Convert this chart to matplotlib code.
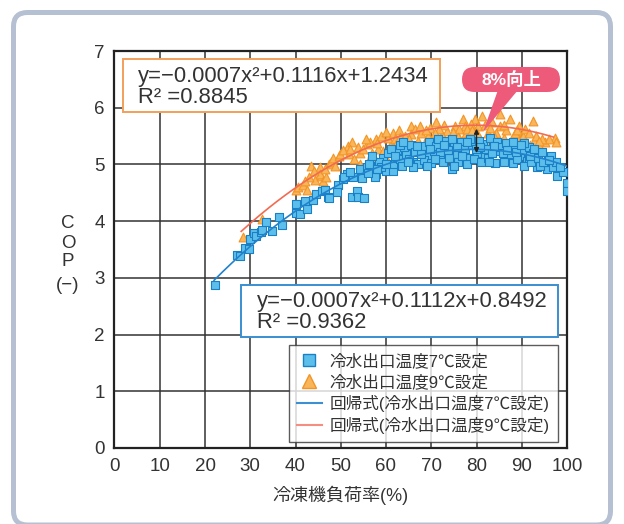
import numpy as np
import matplotlib
matplotlib.use('Agg')
import matplotlib.pyplot as plt
from matplotlib.patches import FancyBboxPatch, Rectangle, Polygon
from matplotlib.lines import Line2D

plt.rcParams['font.family'] = ['Liberation Sans', 'Noto Sans CJK JP']
plt.rcParams['axes.unicode_minus'] = False

# 冷水出口温度7℃設定 (負荷率%, COP)
x7 = [22.1, 27.0, 27.7, 28.8, 29.7, 30.0, 30.9, 31.2, 32.4, 32.7, 33.5, 34.7, 36.3, 37.1,
      40.2, 40.2, 41.0, 42.1, 42.5, 43.9, 44.6, 45.9, 46.5, 47.2, 47.5, 49.4, 49.2, 50.6,
      51.3, 50.8, 52.4, 52.7, 53.5, 53.8, 54.8, 55.1, 52.0, 54.2, 55.7, 56.4, 56.3, 57.9,
      57.6, 59.4, 60.1, 61.6, 61.6, 61.9, 63.0, 64.5, 66.0, 67.5, 69.0, 70.5, 71.9, 73.4,
      74.5, 75.6, 77.0, 78.5, 80.0, 81.5, 81.9, 83.7, 83.0, 85.2, 86.6, 87.3, 89.6, 91.1,
      91.6, 93.3, 95.5, 95.9, 97.7, 99.2, 99.9, 99.9,
      58.5, 59.0, 60.5, 62.5, 63.5, 64.0, 65.0, 65.5, 66.5, 67.0, 68.0, 68.5, 69.5, 70.0,
      71.0, 72.0, 72.5, 73.0, 74.0, 75.0, 76.0, 76.5, 77.5, 78.0, 79.0, 79.5, 80.5, 81.0,
      82.0, 82.5, 83.5, 84.0, 84.5, 85.5, 86.0, 86.5, 87.5, 88.0, 88.5, 89.0, 90.0, 90.5,
      91.5, 92.0, 92.5, 93.5, 94.0, 94.5, 95.0, 96.5, 97.0, 97.5, 98.5, 63.0, 61.0, 57.0,
      58.0, 56.0, 60.0, 69.0, 71.5, 74.5, 78.5, 88.0, 90.5, 66.0, 75.0,
      62.0, 64.8, 67.8, 70.8, 73.8, 76.8, 79.8, 82.8, 85.8, 88.8, 91.8, 94.8,
      63.8, 66.8, 69.8, 72.8, 75.8, 77.8, 80.8, 83.8, 86.8, 89.8, 92.8, 96.0]
y7 = [2.88, 3.41, 3.39, 3.53, 3.51, 3.69, 3.79, 3.74, 3.80, 3.85, 3.98, 3.83, 4.07, 3.94,
      4.30, 4.14, 4.13, 4.36, 4.22, 4.37, 4.48, 4.53, 4.55, 4.43, 4.41, 4.63, 4.52, 4.74,
      4.83, 4.77, 4.42, 4.77, 4.54, 4.43, 4.76, 4.41, 4.86, 4.92, 4.95, 4.98, 5.00, 4.83,
      4.77, 5.12, 4.89, 4.89, 5.01, 5.12, 5.09, 5.18, 5.04, 5.24, 5.15, 5.24, 5.12, 5.30,
      4.92, 5.18, 5.24, 5.12, 5.20, 5.36, 5.18, 5.36, 5.47, 5.24, 5.12, 5.27, 5.15, 5.06,
      5.12, 4.95, 4.92, 5.10, 4.80, 4.86, 4.68, 4.54,
      5.05, 4.95, 5.20, 5.25, 4.98, 5.30, 5.10, 5.35, 5.22, 5.00, 5.32, 5.08, 5.40, 5.02,
      5.33, 5.22, 5.05, 5.42, 5.12, 5.35, 5.05, 5.40, 5.28, 5.00, 5.35, 5.10, 5.42, 5.05,
      5.28, 5.12, 5.20, 5.02, 5.40, 5.30, 5.05, 5.38, 5.18, 5.02, 5.30, 5.10, 5.25, 4.98,
      5.30, 5.05, 5.20, 5.12, 4.98, 5.22, 5.05, 5.15, 4.95, 5.05, 4.95, 5.35, 5.28, 5.15,
      4.92, 4.85, 5.00, 4.98, 5.45, 5.45, 5.45, 5.40, 5.38, 4.95, 4.98,
      5.15, 5.05, 5.18, 5.10, 5.25, 5.15, 5.28, 5.05, 5.20, 5.22, 5.15, 5.05,
      5.40, 5.32, 5.28, 5.35, 5.30, 5.40, 5.30, 5.32, 5.25, 5.35, 5.28, 5.08]

# 冷水出口温度9℃設定
x9 = [28.3, 32.6, 40.2, 40.5, 41.6, 42.5, 43.5, 44.3, 45.4, 45.6, 45.4, 46.1, 46.8, 47.5,
      47.9, 48.3, 49.7, 49.8, 51.6, 51.8, 53.8, 54.2, 54.2, 55.7, 56.4, 57.8, 58.3, 59.4,
      61.1, 60.5, 61.6, 61.9, 62.1, 63.4, 65.6, 65.5, 67.1, 69.3, 71.1, 71.5, 73.4, 73.5,
      75.2, 75.6, 77.0, 77.4, 77.6, 79.6, 80.3, 81.2, 82.6, 82.3, 83.4, 85.2, 85.3, 86.1,
      86.7, 87.3, 89.3, 89.4, 91.1, 92.5, 92.6, 95.1, 97.4, 97.6,
      50.5, 52.5, 53.0, 55.0, 56.5, 57.0, 58.8, 59.8, 62.8, 63.8, 64.3, 66.3, 66.8, 67.8,
      68.3, 69.8, 70.3, 72.3, 72.8, 74.3, 76.2, 78.2, 78.8, 80.8, 81.8, 84.2, 84.8, 86.5,
      87.8, 88.5, 90.2, 90.8, 91.8, 93.2, 94.0, 96.0, 44.0, 46.5, 48.8, 43.0, 42.0,
      52.0, 55.5, 58.0, 60.0, 63.0, 65.0, 68.8, 71.8, 74.8, 77.8, 80.0, 83.0, 86.0, 89.0,
      91.5, 94.5, 61.5, 67.5, 70.8, 76.0, 79.0, 83.8, 88.0, 93.8]
y9 = [3.72, 4.04, 4.55, 4.60, 4.63, 4.55, 4.98, 4.73, 4.95, 4.79, 4.83, 4.71, 4.77, 5.01,
      5.04, 5.12, 5.15, 5.18, 5.33, 5.18, 5.30, 5.01, 5.20, 5.36, 5.12, 5.45, 5.27, 5.24,
      5.36, 5.47, 5.56, 5.45, 5.36, 5.42, 5.68, 5.53, 5.42, 5.50, 5.74, 5.47, 5.59, 5.38,
      5.68, 5.53, 5.80, 5.68, 5.56, 5.80, 5.68, 5.86, 5.56, 5.38, 5.74, 5.89, 5.68, 5.47,
      5.24, 5.80, 5.68, 5.47, 5.30, 5.77, 5.42, 5.39, 5.47, 5.39,
      5.25, 5.40, 5.10, 5.28, 5.40, 5.20, 5.50, 5.15, 5.60, 5.30, 5.50, 5.62, 5.30, 5.55,
      5.35, 5.65, 5.40, 5.52, 5.70, 5.45, 5.62, 5.50, 5.72, 5.45, 5.70, 5.55, 5.35, 5.60,
      5.45, 5.55, 5.50, 5.62, 5.35, 5.50, 5.30, 5.45, 4.88, 4.92, 4.98, 4.78, 4.70,
      5.28, 5.45, 5.38, 5.58, 5.48, 5.45, 5.60, 5.62, 5.58, 5.62, 5.55, 5.65, 5.70, 5.60,
      5.55, 5.45, 5.30, 5.68, 5.55, 5.48, 5.60, 5.50, 5.35, 5.42]

# 回帰式の係数 (x², x, 定数) と描画範囲
fit7 = [-0.0007, 0.1112, 0.8492]
fit9 = [-0.0007, 0.1116, 1.2434]
rng7 = [22, 100]
rng9 = [28, 97]

c_sq_face, c_sq_edge = '#5cbfeb', '#1a80c6'
c_tri_face, c_tri_edge = '#f9b55a', '#f39526'
c_line7, c_line9 = '#2282cc', '#f26a52'
txt = '#333333'

W, H = 624, 524
fig = plt.figure(figsize=(W / 100, H / 100), dpi=100)

# 外枠
frame = FancyBboxPatch((13.5, -1), W - 27, H - 11.5, boxstyle='round,pad=0,rounding_size=14',
                       transform=None, fc='none', ec='#b5c0d3', lw=3.6, zorder=0)
fig.patches.append(frame)

ax = fig.add_axes([114.5 / W, (H - 448) / H, (567 - 114.5) / W, (448 - 51) / H])
ax.set_xlim(0, 100)
ax.set_ylim(0, 7)
ax.set_xticks(range(0, 101, 10))
ax.set_yticks(range(0, 8))
ax.grid(True, color='#333333', lw=1.1)
ax.set_axisbelow(True)
for s in ax.spines.values():
    s.set_linewidth(1.6)
    s.set_color('#222222')
ax.tick_params(length=0, labelsize=13.5, colors=txt, pad=7)

ax.scatter(x9, y9, marker='^', s=40, fc=c_tri_face, ec=c_tri_edge, lw=0.8, zorder=3)
ax.scatter(x7, y7, marker='s', s=32, fc=c_sq_face, ec=c_sq_edge, lw=0.8, zorder=3)

xx7 = np.linspace(rng7[0], rng7[1], 200)
xx9 = np.linspace(rng9[0], rng9[1], 200)
ax.plot(xx7, np.polyval(fit7, xx7), color=c_line7, lw=1.2, zorder=4)
ax.plot(xx9, np.polyval(fit9, xx9), color=c_line9, lw=1.2, zorder=4)

# 8%向上の矢印
ax.annotate('', xy=(80, 5.63), xytext=(80, 5.2),
            arrowprops=dict(arrowstyle='<|-|>', color='#222222', lw=1.0,
                            mutation_scale=7, shrinkA=0, shrinkB=0), zorder=5)

# 吹き出し
pill = FancyBboxPatch((462, H - 92), 98, 25, boxstyle='round,pad=0,rounding_size=12.5',
                      transform=None, fc='#ee5a7a', ec='none', zorder=6)
tail = Polygon([(498, H - 90), (518, H - 90), (483, H - 132)], closed=True,
               transform=None, fc='#ee5a7a', ec='none', zorder=6)
fig.patches.extend([pill, tail])
fig.text(511 / W, (H - 79.5) / H, '8%向上', color='white', fontsize=12.5,
         fontweight='bold', ha='center', va='center', zorder=7)

# 回帰式ボックス
ax.add_patch(Rectangle((0.019, 0.846), 0.70, 0.134, transform=ax.transAxes,
                       fc='white', ec='#f0a05a', lw=1.4, zorder=6))
ax.text(0.052, 0.937, 'y=−0.0007x²+0.1116x+1.2434', transform=ax.transAxes,
        fontsize=15.8, color=txt, va='center', zorder=7)
ax.text(0.052, 0.884, 'R² =0.8845', transform=ax.transAxes,
        fontsize=15.8, color=txt, va='center', zorder=7)

ax.add_patch(Rectangle((0.28, 0.280), 0.70, 0.131, transform=ax.transAxes,
                       fc='white', ec='#3a8fd0', lw=1.4, zorder=6))
ax.text(0.315, 0.369, 'y=−0.0007x²+0.1112x+0.8492', transform=ax.transAxes,
        fontsize=15.8, color=txt, va='center', zorder=7)
ax.text(0.315, 0.315, 'R² =0.9362', transform=ax.transAxes,
        fontsize=15.8, color=txt, va='center', zorder=7)

handles = [
    Line2D([], [], ls='none', marker='s', ms=8, mfc=c_sq_face, mec=c_sq_edge, mew=1),
    Line2D([], [], ls='none', marker='^', ms=10, mfc=c_tri_face, mec=c_tri_edge, mew=1),
    Line2D([], [], color='#3d8fd1', lw=1.5),
    Line2D([], [], color='#f58e80', lw=1.5),
]
labels = ['冷水出口温度7℃設定', '冷水出口温度9℃設定',
          '回帰式(冷水出口温度7℃設定)', '回帰式(冷水出口温度9℃設定)']
leg = ax.legend(handles, labels, loc='lower right', bbox_to_anchor=(0.98, 0.015),
                fontsize=12, frameon=True, fancybox=False, borderaxespad=0,
                handlelength=1.5, handletextpad=0.45, labelspacing=0.3, borderpad=0.5,
                labelcolor=txt)
leg.get_frame().set_edgecolor('#333333')
leg.get_frame().set_linewidth(1.0)
leg.set_zorder(8)

ax.set_xlabel('冷凍機負荷率(%)', fontsize=13, color=txt, labelpad=8)
for s, yp in zip(['C', 'O', 'P', '(−)'], [223, 243, 262, 285]):
    fig.text(68 / W, (H - yp) / H, s, fontsize=13.5, color=txt, ha='center', va='center')

fig.savefig('out.png', dpi=100)
